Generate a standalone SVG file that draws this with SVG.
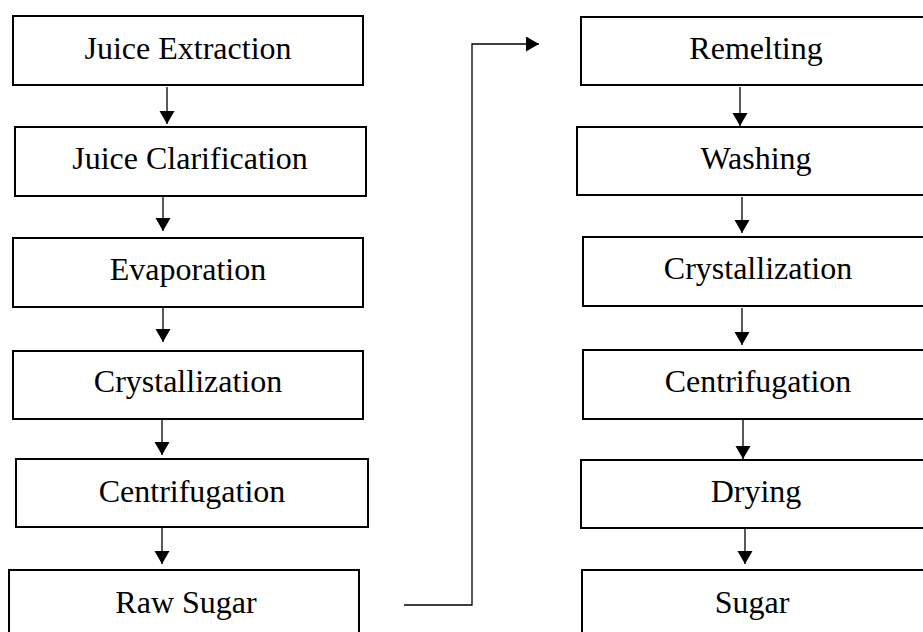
<svg xmlns="http://www.w3.org/2000/svg" width="923" height="632" viewBox="0 0 923 632">
<style>
.box{fill:#fff;stroke:#000;stroke-width:2}
.lbl{font-family:"Liberation Serif","Times New Roman",serif;font-size:32px;fill:#000;text-anchor:middle}
.conn{fill:none;stroke:#000;stroke-width:1.3}
</style>
<defs>
<marker id="ah" markerUnits="userSpaceOnUse" markerWidth="14" markerHeight="16" refX="13" refY="7.5" orient="auto">
<path d="M0,0 L13,7.5 L0,15 z" fill="#000"/>
</marker>
</defs>
<rect width="923" height="632" fill="#fff"/>
<g id="juice-extraction"><rect class="box" x="13" y="16" width="350" height="69"/><text class="lbl" x="188" y="59">Juice Extraction</text></g>
<g id="juice-clarification"><rect class="box" x="15" y="127" width="351" height="69"/><text class="lbl" x="190" y="169">Juice Clarification</text></g>
<g id="evaporation"><rect class="box" x="13" y="238" width="350" height="69"/><text class="lbl" x="188" y="280">Evaporation</text></g>
<g id="crystallization-1"><rect class="box" x="13" y="351" width="350" height="68"/><text class="lbl" x="188" y="392">Crystallization</text></g>
<g id="centrifugation-1"><rect class="box" x="16" y="459" width="352" height="68"/><text class="lbl" x="192" y="502">Centrifugation</text></g>
<g id="raw-sugar"><rect class="box" x="9" y="570" width="350" height="72"/><text class="lbl" x="186" y="613">Raw Sugar</text></g>
<g id="remelting"><rect class="box" x="581" y="17" width="350" height="68"/><text class="lbl" x="756" y="59">Remelting</text></g>
<g id="washing"><rect class="box" x="577" y="127" width="352" height="68"/><text class="lbl" x="756" y="169">Washing</text></g>
<g id="crystallization-2"><rect class="box" x="583" y="237" width="350" height="69"/><text class="lbl" x="758" y="279">Crystallization</text></g>
<g id="centrifugation-2"><rect class="box" x="583" y="350" width="350" height="69"/><text class="lbl" x="758" y="392">Centrifugation</text></g>
<g id="drying"><rect class="box" x="581" y="460" width="350" height="68"/><text class="lbl" x="756" y="502">Drying</text></g>
<g id="sugar"><rect class="box" x="582" y="570" width="350" height="72"/><text class="lbl" x="752" y="613">Sugar</text></g>
<g id="connectors">
<line class="conn" x1="167" y1="87" x2="167" y2="124" marker-end="url(#ah)"/>
<line class="conn" x1="163" y1="197" x2="163" y2="231" marker-end="url(#ah)"/>
<line class="conn" x1="163" y1="308" x2="163" y2="342" marker-end="url(#ah)"/>
<line class="conn" x1="162" y1="420" x2="162" y2="455" marker-end="url(#ah)"/>
<line class="conn" x1="162" y1="528" x2="162" y2="564" marker-end="url(#ah)"/>
<line class="conn" x1="740" y1="87" x2="740" y2="126" marker-end="url(#ah)"/>
<line class="conn" x1="742" y1="197" x2="742" y2="233" marker-end="url(#ah)"/>
<line class="conn" x1="742" y1="308" x2="742" y2="345" marker-end="url(#ah)"/>
<line class="conn" x1="743" y1="420" x2="743" y2="459" marker-end="url(#ah)"/>
<line class="conn" x1="745" y1="529" x2="745" y2="564" marker-end="url(#ah)"/>
<polyline class="conn" points="404,605 472,605 472,44 539,44" marker-end="url(#ah)"/>
</g>
</svg>
